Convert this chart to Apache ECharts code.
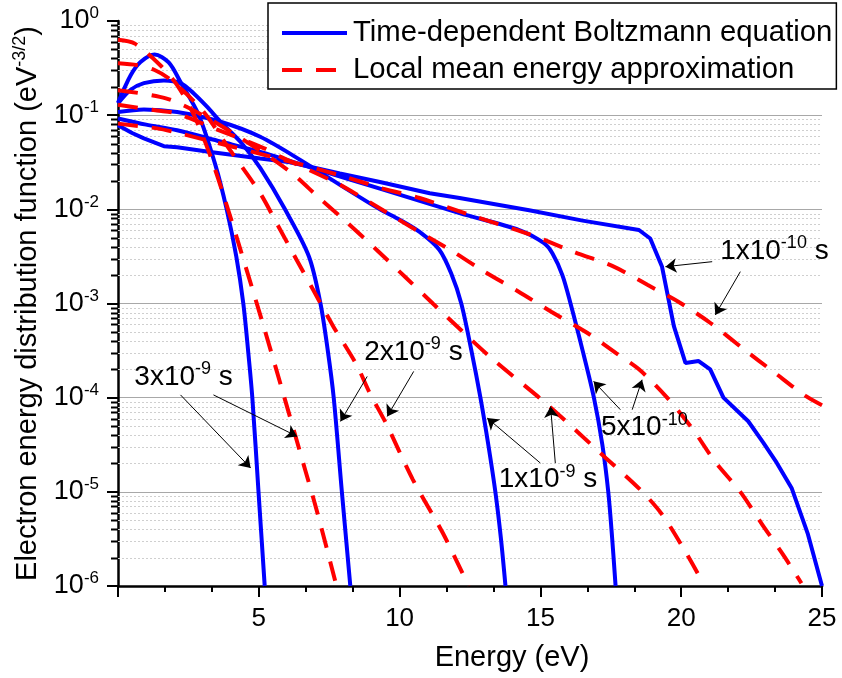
<!DOCTYPE html>
<html>
<head>
<meta charset="utf-8">
<script src="https://cdn.jsdelivr.net/npm/echarts@6/dist/echarts.min.js"></script>
<style>
html, body { margin: 0; padding: 0; background: #fff; }
#chart { width: 842px; height: 678px; }
</style>
</head>
<body>
<div id="chart"></div>
<script>
// EEDF vs energy (energy in eV, EEDF in eV^-3/2)
var nameBte = 'Time-dependent Boltzmann equation';
var nameLmea = 'Local mean energy approximation';

// time-dependent Boltzmann equation (solid blue)
var energyBte3 = [0, 0.45, 0.8, 1.3, 1.8, 2.22, 2.87, 3.46, 3.86, 4.2, 4.45, 4.62, 4.77, 4.99, 5.21];
var eedfBte3 = [0.135, 0.265, 0.367, 0.441, 0.363, 0.225, 0.1, 0.0295, 0.01, 3.16e-3, 1.0e-3, 3.16e-4, 1.0e-4, 1.0e-5, 1.0e-6];

var energyBte2 = [0, 0.45, 0.92, 1.63, 2.22, 2.69, 3.16, 3.64, 4.4, 5.05, 5.93, 6.78, 7.19, 7.45, 7.66, 7.95, 8.25];
var eedfBte2 = [0.133, 0.186, 0.219, 0.234, 0.219, 0.170, 0.123, 0.0851, 0.0501, 0.0275, 0.01, 3.16e-3, 1.0e-3, 3.16e-4, 1.0e-4, 1.0e-5, 1.0e-6];

var energyBte1 = [0, 0.92, 2.1, 3.64, 5.05, 6.5, 7.88, 9.3, 10.0, 10.71, 11.41, 11.83, 12.19, 12.55, 12.87, 13.15, 13.4, 13.6, 13.76];
var eedfBte1 = [0.108, 0.115, 0.108, 0.0851, 0.0589, 0.0331, 0.0182, 0.01, 7.76e-3, 5.75e-3, 3.72e-3, 2.09e-3, 1.0e-3, 3.16e-4, 1.0e-4, 3.16e-5, 1.0e-5, 3.16e-6, 1.0e-6];

var energyBte05 = [0, 1.0, 2.1, 3.64, 5.05, 7.0, 9.3, 12.13, 14.25, 15.13, 15.43, 15.78, 16.07, 16.5, 16.9, 17.2, 17.41, 17.55, 17.67];
var eedfBte05 = [0.0923, 0.0794, 0.0692, 0.0525, 0.0407, 0.0269, 0.0166, 9.12e-3, 6.03e-3, 4.37e-3, 3.39e-3, 2.0e-3, 1.0e-3, 3.16e-4, 1.0e-4, 3.16e-5, 1.0e-5, 3.16e-6, 1.0e-6];

var energyBte01 = [0, 0.5, 0.92, 1.63, 2.1, 3.28, 5.05, 6.11, 7.88, 9.3, 11.07, 12.13, 14.6, 16.5, 18.5, 18.9, 19.32, 19.74, 20.15, 20.62, 21.03, 21.5, 22.38, 22.92, 23.39, 23.92, 24.5, 25.0];
var eedfBte01 = [0.0782, 0.0646, 0.0566, 0.0468, 0.0457, 0.0407, 0.0347, 0.0316, 0.0240, 0.0195, 0.0148, 0.0132, 9.77e-3, 7.59e-3, 6.03e-3, 4.90e-3, 2.45e-3, 5.75e-4, 2.34e-4, 2.45e-4, 2.0e-4, 1.0e-4, 5.62e-5, 3.31e-5, 2.04e-5, 1.10e-5, 3.55e-6, 1.0e-6];

// local mean energy approximation (dashed red)
var energyLmea3 = [0, 0.6, 1.5, 2.1, 2.7, 3.3, 3.8, 4.34, 5.17, 5.87, 6.64, 7.06, 7.76];
var eedfLmea3 = [0.631, 0.575, 0.339, 0.209, 0.1, 0.0355, 0.0126, 3.80e-3, 5.75e-4, 1.10e-4, 1.74e-5, 6.31e-6, 1.0e-6];

var energyLmea2 = [0, 0.69, 1.3, 1.9, 3.0, 4.0, 5.05, 5.64, 6.35, 6.94, 7.64, 8.47, 8.94, 9.53, 10.47, 11.54, 12.45];
var eedfLmea2 = [0.355, 0.339, 0.302, 0.234, 0.112, 0.0417, 0.0148, 7.08e-3, 2.88e-3, 1.38e-3, 5.75e-4, 2.24e-4, 1.12e-4, 5.25e-5, 1.35e-5, 3.63e-6, 1.0e-6];

var energyLmea1 = [0, 1.7, 3.0, 4.5, 6.11, 7.11, 8.17, 9.18, 10.2, 11.18, 13.19, 15.31, 17.32, 18.55, 19.32, 20.1, 20.8];
var eedfLmea1 = [0.184, 0.151, 0.1, 0.0537, 0.0251, 0.0135, 7.08e-3, 3.72e-3, 1.91e-3, 1.0e-3, 2.75e-4, 8.13e-5, 2.29e-5, 1.05e-5, 5.75e-6, 2.45e-6, 1.05e-6];

var energyLmea05 = [0, 1.39, 2.04, 3.5, 5.17, 5.76, 7.7, 8.3, 9.47, 10.7, 11.9, 13.0, 14.2, 15.4, 16.6, 17.7, 18.5, 19.5, 20.4, 21.2, 22.1, 22.86, 23.6, 24.27];
var eedfLmea05 = [0.129, 0.112, 0.105, 0.0708, 0.0447, 0.0363, 0.0195, 0.0155, 9.55e-3, 5.75e-3, 3.55e-3, 2.19e-3, 1.35e-3, 8.13e-4, 5.01e-4, 2.95e-4, 2.0e-4, 1.0e-4, 4.68e-5, 2.09e-5, 1.0e-5, 4.57e-6, 2.19e-6, 1.07e-6];

var energyLmea01 = [0, 1.39, 2.0, 4.0, 6.58, 8.0, 9.41, 10.71, 12.5, 14.66, 16.25, 17.55, 18.8, 20.0, 21.05, 22.2, 23.3, 24.4, 25];
var eedfLmea01 = [0.0813, 0.0724, 0.0661, 0.0468, 0.0295, 0.0224, 0.0166, 0.0132, 8.71e-3, 5.37e-3, 3.47e-3, 2.51e-3, 1.58e-3, 1.0e-3, 6.17e-4, 3.31e-4, 1.86e-4, 1.05e-4, 8.32e-5];

// minor log grid values (2..9 x 10^k)
var minorTickValues = [];
for (var k = -6; k < 0; k++) {
    for (var m = 2; m <= 9; m++) {
        minorTickValues.push(+(m * Math.pow(10, k)).toPrecision(3));
    }
}

// annotation labels: [energy, eedf] and text
var labelPos = [[23.31, 3.61e-3], [18.69, 4.8e-5], [15.27, 1.35e-5], [10.49, 3.07e-4], [2.33, 1.64e-4]];
var labelText = [
    '{b|1x10}{s|-10}{b| s}',
    '{b|5x10}{s|-10}',
    '{b|1x10}{s|-9}{b| s}',
    '{b|2x10}{s|-9}{b| s}',
    '{b|3x10}{s|-9}{b| s}'
];
// annotation arrows: tail -> head
var arrowTails = [[21.1, 2.78e-3], [22.1, 2.18e-3], [17.84, 7.45e-5], [18.26, 7.45e-5], [15.0, 2.02e-5], [15.53, 2.02e-5], [8.85, 1.68e-4], [10.5, 1.90e-4], [2.22, 1.07e-4], [3.39, 1.07e-4]];
var arrowHeads = [[19.44, 2.46e-3], [21.21, 7.57e-4], [16.89, 1.49e-4], [18.61, 1.55e-4], [13.11, 6.08e-5], [15.36, 8.07e-5], [7.9, 5.6e-5], [9.56, 6.32e-5], [4.71, 1.79e-5], [6.36, 3.88e-5]];

var font = "'Liberation Sans', Arial, sans-serif";
var blue = '#0000ff';
var red = '#ff0000';

function pairs(xs, ys) {
    return xs.map(function (x, i) { return [x, ys[i]]; });
}

function bteSeries(xs, ys) {
    return {
        name: nameBte, type: 'line', data: pairs(xs, ys),
        showSymbol: false, symbol: 'none', smooth: 0.3, z: 3,
        lineStyle: { color: blue, width: 4 },
        itemStyle: { color: blue }
    };
}

function lmeaSeries(xs, ys) {
    return {
        name: nameLmea, type: 'line', data: pairs(xs, ys),
        showSymbol: false, symbol: 'none', smooth: 0.3, z: 4,
        lineStyle: { color: red, width: 4, type: [20, 14] },
        itemStyle: { color: red }
    };
}

var myChart = echarts.init(document.getElementById('chart'));

var series = [
    bteSeries(energyBte3, eedfBte3),
    bteSeries(energyBte2, eedfBte2),
    bteSeries(energyBte1, eedfBte1),
    bteSeries(energyBte05, eedfBte05),
    bteSeries(energyBte01, eedfBte01),
    lmeaSeries(energyLmea3, eedfLmea3),
    lmeaSeries(energyLmea2, eedfLmea2),
    lmeaSeries(energyLmea1, eedfLmea1),
    lmeaSeries(energyLmea05, eedfLmea05),
    lmeaSeries(energyLmea01, eedfLmea01)
];
series[4].smooth = false;

// minor grid lines + minor ticks on the log axis
series.push({
    type: 'custom', name: 'minor', z: 1, silent: true,
    data: minorTickValues.map(function (v) { return [0, v]; }),
    encode: { x: 0, y: 1 },
    renderItem: function (params, api) {
        var v = api.value(1);
        var p0 = api.coord([0, v]);
        var p1 = api.coord([25, v]);
        var y = Math.round(p0[1]) + 0.5;
        return {
            type: 'group',
            children: [
                { type: 'line', shape: { x1: p0[0], y1: y, x2: p1[0], y2: y },
                  style: { stroke: '#cfcfcf', lineWidth: 1, lineDash: [2, 2] } },
                { type: 'line', shape: { x1: p0[0] - 7, y1: y, x2: p0[0], y2: y },
                  style: { stroke: '#000', lineWidth: 2 } }
            ]
        };
    }
});

// arrows and time labels
series[0].markLine = {
    silent: true, animation: false,
    symbol: ['none', 'arrow'], symbolSize: 11,
    lineStyle: { color: '#000', width: 1, type: 'solid' },
    label: { show: false },
    data: arrowTails.map(function (t, i) {
        return [{ coord: t }, { coord: arrowHeads[i] }];
    })
};
series[0].markPoint = {
    silent: true, animation: false,
    symbol: 'circle', symbolSize: 0,
    label: {
        show: true, position: 'inside', color: '#000',
        rich: {
            b: { fontSize: 28, fontFamily: font, color: '#000', lineHeight: 34 },
            s: { fontSize: 18, fontFamily: font, color: '#000', verticalAlign: 'top', lineHeight: 18 }
        }
    },
    data: labelPos.map(function (p, i) {
        return { coord: p, label: { formatter: labelText[i] } };
    })
};

option = {
    animation: false,
    backgroundColor: '#fff',
    grid: { left: 118, right: 20, top: 21, bottom: 92, containLabel: false, outerBoundsMode: 'none' },
    legend: {
        data: [nameBte, nameLmea],
        left: 268, top: 3, orient: 'vertical',
        itemWidth: 65, itemHeight: 14, itemGap: 7,
        padding: [15, 4, 4, 12],
        borderColor: '#000', borderWidth: 1.5, backgroundColor: '#fff',
        selectedMode: false,
        itemStyle: { opacity: 0 },
        lineStyle: { width: 4 },
        textStyle: { fontSize: 29.3, color: '#000', fontFamily: font, lineHeight: 30, padding: [0, 0, 0, 1] }
    },
    xAxis: {
        type: 'value', min: 0, max: 25, interval: 5,
        name: 'Energy (eV)', nameLocation: 'middle', nameGap: 57,
        nameTextStyle: { fontSize: 29, color: '#000', fontFamily: font, padding: [0, 0, 0, 84] },
        axisLine: { show: true, onZero: false, lineStyle: { color: '#000', width: 2.5 } },
        axisTick: { show: true, length: 11, lineStyle: { color: '#000', width: 2 } },
        minorTick: { show: true, splitNumber: 3, length: 6, lineStyle: { color: '#000', width: 2 } },
        axisLabel: {
            color: '#000', fontSize: 26, fontFamily: font, margin: 20,
            formatter: function (v) { return v === 0 ? '' : String(v); }
        },
        splitLine: { show: false }
    },
    yAxis: {
        type: 'log', logBase: 10, min: 1e-6, max: 1, splitNumber: 6,
        name: '{t|Electron energy distribution function (eV}{u|-3/2}{t|)}',
        nameLocation: 'middle', nameGap: 73, nameRotate: 90,
        nameTextStyle: {
            color: '#000',
            rich: {
                t: { fontSize: 29, fontFamily: font, color: '#000', lineHeight: 34 },
                u: { fontSize: 18, fontFamily: font, color: '#000', verticalAlign: 'top', lineHeight: 18 }
            }
        },
        axisLine: { show: true, lineStyle: { color: '#000', width: 2.5 } },
        axisTick: { show: true, length: 11, lineStyle: { color: '#000', width: 2 } },
        axisLabel: {
            color: '#000', margin: 19,
            formatter: function (v) {
                var e = Math.round(Math.log(v) / Math.LN10);
                return '{b|10}{s|' + e + '}';
            },
            rich: {
                b: { fontSize: 27, fontFamily: font, color: '#000', lineHeight: 32 },
                s: { fontSize: 17, fontFamily: font, color: '#000', verticalAlign: 'top', lineHeight: 17 }
            }
        },
        splitLine: { show: true, showMinLine: false, showMaxLine: false, lineStyle: { color: '#a8a8a8', width: 1 } }
    },
    series: series
};

myChart.setOption(option);
</script>
</body>
</html>
